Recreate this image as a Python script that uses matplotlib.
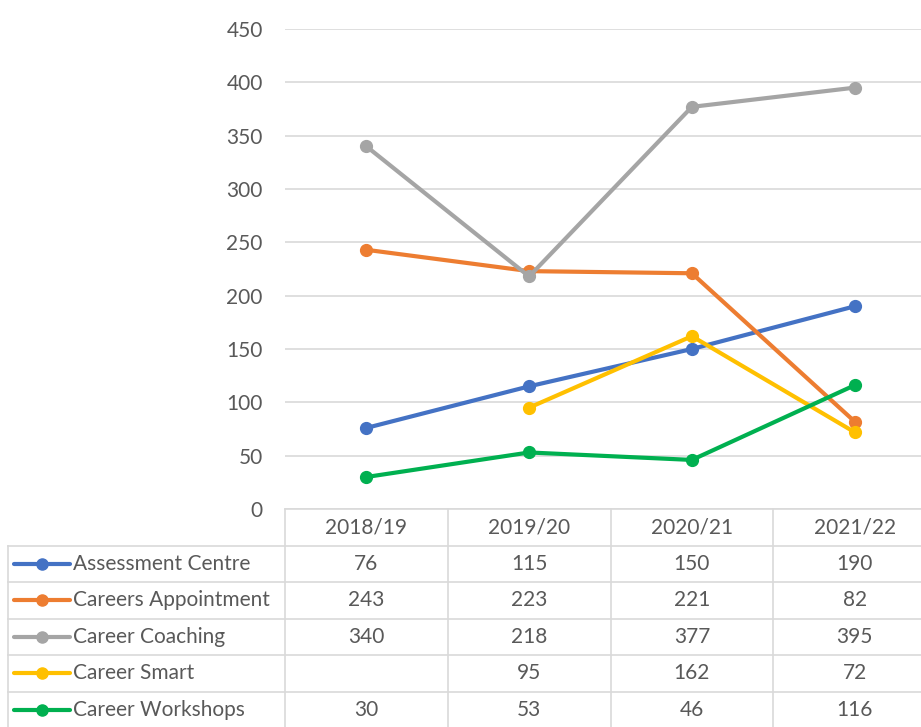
import numpy as np
import matplotlib
matplotlib.use("Agg")
import matplotlib.pyplot as plt

years = ["2018/19", "2019/20", "2020/21", "2021/22"]
assessment_centre = [76, 115, 150, 190]
careers_appointment = [243, 223, 221, 82]
career_coaching = [340, 218, 377, 395]
career_smart = [np.nan, 95, 162, 72]
career_workshops = [30, 53, 46, 116]

names = ["Assessment Centre", "Careers Appointment", "Career Coaching",
         "Career Smart", "Career Workshops"]
series = [assessment_centre, careers_appointment, career_coaching,
          career_smart, career_workshops]
colors = ["#4472C4", "#ED7D31", "#A5A5A5", "#FFC000", "#00B050"]
yticks = [0, 50, 100, 150, 200, 250, 300, 350, 400, 450]

plt.rcParams['font.family'] = ['Lato', 'DejaVu Sans']
txt = "#595959"
grid = "#D9D9D9"
fs = 15

W, H = 921, 727
fig = plt.figure(figsize=(W / 100, H / 100), dpi=100)

# pixel layout
x_plot, x_right, y_top, y_zero = 285, 936, 29, 509
x_tab = 8
unit = (x_right - x_plot) / len(years)

ax = fig.add_axes([x_plot / W, (H - y_zero) / H, (x_right - x_plot) / W, (y_zero - y_top) / H])
ax.set_xlim(-0.5, len(years) - 0.5)
ax.set_ylim(0, 450)
ax.set_yticks(yticks)
ax.set_xticks([])
for s in ax.spines.values():
    s.set_visible(False)
ax.grid(axis='y', color=grid, lw=1.2)
ax.set_axisbelow(True)
ax.tick_params(axis='y', length=0, pad=16, labelsize=fs, labelcolor=txt)

x = np.arange(len(years))
for vals, c in zip(series, colors):
    ax.plot(x, vals, color=c, lw=3, marker='o', ms=8.5, solid_capstyle='round', zorder=3)

# data table below the plot
tab = fig.add_axes([x_tab / W, 0, (x_right - x_tab) / W, (H - y_zero) / H])
left = -0.5 - (x_plot - x_tab) / unit
tab.set_xlim(left, len(years) - 0.5)
nrows = len(names) + 1
tab.set_ylim((H - y_zero) / 36.5, 0)
tab.axis('off')

lw = 1.2
tab.plot([-0.5, len(years) - 0.5], [0, 0], color=grid, lw=lw, clip_on=False)
for r in range(1, nrows):
    tab.plot([left, len(years) - 0.5], [r, r], color=grid, lw=lw, clip_on=False)
for c in range(len(years)):
    tab.plot([c - 0.5, c - 0.5], [0, nrows], color=grid, lw=lw, clip_on=False)
tab.plot([left, left], [1, nrows], color=grid, lw=lw, clip_on=False)

for i, yr in enumerate(years):
    tab.text(i, 0.5, yr, ha='center', va='center', fontsize=fs, color=txt)

key0 = left + 6 / unit
key1 = left + 62 / unit
for r, (name, vals, c) in enumerate(zip(names, series, colors), start=1):
    tab.plot([key0, key1], [r + 0.5, r + 0.5], color=c, lw=3, solid_capstyle='round', clip_on=False)
    tab.plot([(key0 + key1) / 2], [r + 0.5], marker='o', ms=8, color=c, clip_on=False)
    tab.text(key1 + 3 / unit, r + 0.5, name, ha='left', va='center', fontsize=fs, color=txt)
    for i, v in enumerate(vals):
        if not np.isnan(v):
            tab.text(i, r + 0.5, f"{int(v)}", ha='center', va='center', fontsize=fs, color=txt)

fig.savefig("out.png", dpi=100, facecolor='white')
